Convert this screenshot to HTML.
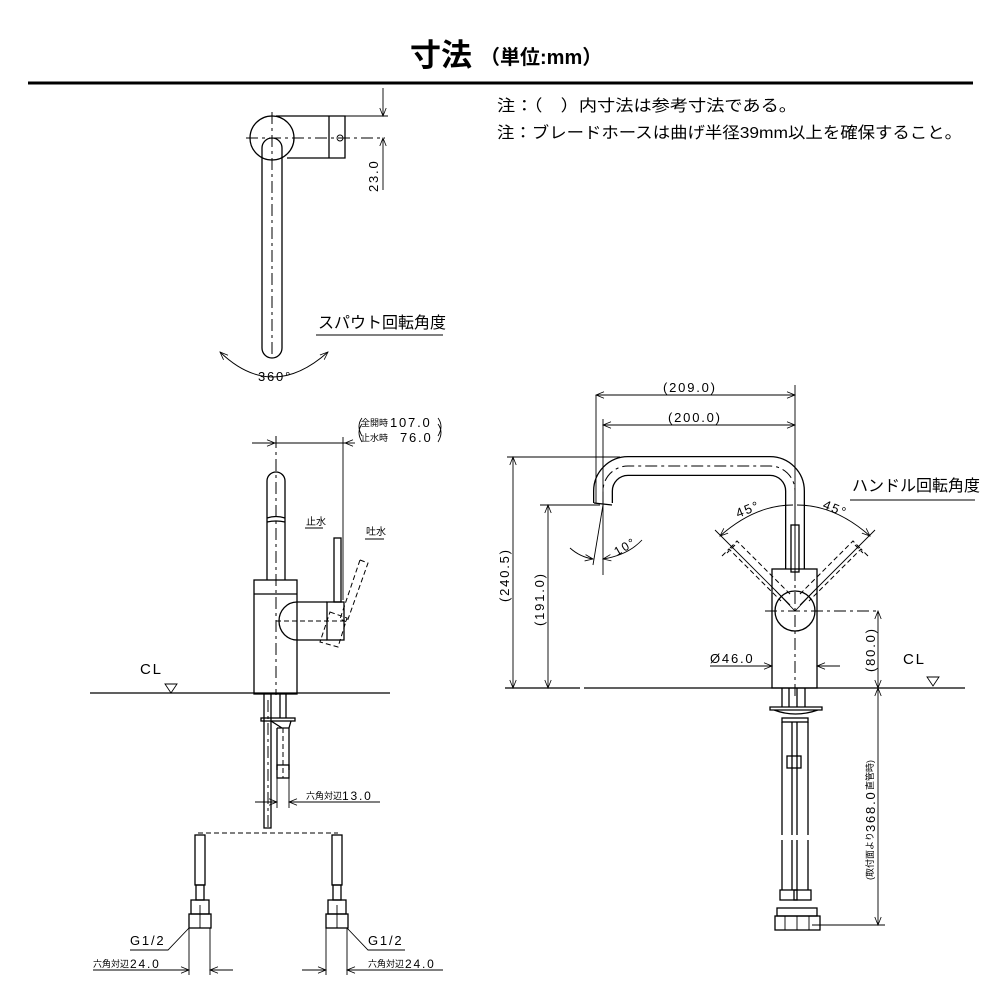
<!DOCTYPE html>
<html><head><meta charset="utf-8"><style>
html,body{margin:0;padding:0;background:#fff}
svg{display:block}
text{font-family:"Liberation Sans","Noto Sans CJK JP",sans-serif;fill:#000}
.n{letter-spacing:1.8px}
.l{stroke:#000;stroke-width:1.3;fill:none}
.t{stroke:#000;stroke-width:0.9;fill:none}
.d{stroke:#000;stroke-width:1;fill:none;stroke-dasharray:12 4 3 4}
.ds{stroke:#000;stroke-width:1;fill:none;stroke-dasharray:5 3}
</style></head><body>
<svg width="1000" height="1000" viewBox="0 0 1000 1000" xmlns="http://www.w3.org/2000/svg">
<defs>
<marker id="a" viewBox="0 0 10 10" refX="10" refY="5" markerWidth="10" markerHeight="8" orient="auto-start-reverse" markerUnits="userSpaceOnUse"><path d="M0,1 L10,5 L0,9" fill="none" stroke="#000" stroke-width="1"/></marker>
</defs>
<text x="410" y="66" font-size="31" font-weight="bold">寸法</text>
<text x="480" y="64" font-size="20" font-weight="bold">（単位:mm）</text>
<line x1="28" y1="83" x2="973" y2="83" stroke="#000" stroke-width="3"/>
<text x="497" y="111" font-size="16" textLength="300" lengthAdjust="spacingAndGlyphs">注：（　）内寸法は参考寸法である。</text>
<text x="497" y="138" font-size="16" textLength="465" lengthAdjust="spacingAndGlyphs">注：ブレードホースは曲げ半径39mm以上を確保すること。</text>

<!-- TOP VIEW -->
<path class="l" d="M276,116 L345,116 L345,158 L287,158"/>
<line class="l" x1="329" y1="116" x2="329" y2="158"/>
<circle class="t" cx="340" cy="138" r="3"/>
<circle class="l" cx="272" cy="138" r="22" fill="#fff"/>
<path class="l" d="M262,148 A10,10 0 0 1 282,148 L282,348 A10,10 0 0 1 262,348 Z" fill="#fff"/>
<line class="d" x1="272" y1="112" x2="272" y2="355"/>
<line class="d" x1="246" y1="138" x2="385" y2="138"/>
<line class="t" x1="276" y1="116" x2="388" y2="116"/>
<line class="t" x1="383" y1="88" x2="383" y2="116" marker-end="url(#a)"/>
<line class="t" x1="383" y1="190" x2="383" y2="138" marker-end="url(#a)"/>
<text class="n" transform="translate(378,192) rotate(-90)" font-size="13">23.0</text>
<text x="318" y="328" font-size="16">スパウト回転角度</text>
<line class="t" x1="316" y1="335" x2="443" y2="335"/>
<path class="t" d="M220,352 Q272,402 328,352" marker-start="url(#a)" marker-end="url(#a)"/>
<text class="n" x="258" y="381" font-size="13">360°</text>

<!-- SIDE VIEW LEFT -->
<text x="361" y="426" font-size="9">全開時</text><text class="n" x="390" y="427" font-size="13">107.0</text>
<text x="361" y="441" font-size="9">止水時</text><text class="n" x="400" y="442" font-size="13">76.0</text>
<path class="t" d="M362,418 Q356,426 362,436 M438,418 Q444,426 438,436 M362,424 Q356,432 362,442 M438,424 Q444,432 438,442"/>
<line class="t" x1="252" y1="443" x2="275" y2="443" marker-end="url(#a)"/>
<line class="t" x1="275" y1="443" x2="345" y2="443"/>
<line class="t" x1="355" y1="443" x2="345" y2="443" marker-end="url(#a)"/>
<line class="t" x1="343" y1="437" x2="343" y2="600"/>
<path class="l" d="M267,580 L267,481 A9,9 0 0 1 285,481 L285,580"/>
<path class="l" d="M267,518 Q276,515 285,518 M267,522 Q276,520 285,522"/>
<line class="d" x1="276" y1="436" x2="276" y2="695"/>
<rect class="l" x="254" y="580" width="43" height="114"/>
<line class="l" x1="254" y1="594" x2="297" y2="594"/>
<path class="l" d="M327,602 L297,602 M297,640 L327,640 M297,602 A18,19 0 0 0 297,640"/>
<line class="ds" x1="276" y1="621" x2="345" y2="621"/>
<rect class="l" x="327" y="602" width="17" height="38"/>
<rect class="l" x="334" y="538" width="7" height="64"/>
<path class="ds" d="M360,560 L368,563 L347,622 L340,619 Z"/>
<path class="ds" d="M330,612 L347,618 L338,647 L320,642 Z"/>
<text x="306" y="525" font-size="10">止水</text><line class="t" x1="305" y1="528" x2="323" y2="528"/>
<text x="366" y="535" font-size="10">吐水</text><line class="t" x1="365" y1="539" x2="384" y2="539"/>
<text class="n" x="140" y="674" font-size="15">CL</text>
<path class="t" d="M165,684 L177,684 L171,693 Z"/>
<line class="l" x1="90" y1="693" x2="390" y2="693"/>
<path class="l" d="M264,694 L264,828 L271,828 L271,694"/>
<path class="l" d="M280,694 L280,718 M286,694 L286,718"/>
<rect class="l" x="261" y="718" width="34" height="3"/>
<path class="l" d="M271,721 L282,728 M277,728 L277,770 M291,721 L289,728 L289,770 M277,728 L289,728"/>
<rect class="l" x="277" y="765" width="12" height="13"/>
<line class="d" x1="268" y1="700" x2="268" y2="828"/>
<line class="ds" x1="283" y1="728" x2="283" y2="778"/>
<line class="t" x1="277" y1="778" x2="277" y2="808"/>
<line class="t" x1="289" y1="778" x2="289" y2="808"/>
<line class="t" x1="255" y1="802" x2="277" y2="802" marker-end="url(#a)"/>
<line class="t" x1="380" y1="802" x2="289" y2="802" marker-end="url(#a)"/>
<text x="306" y="799" font-size="9">六角対辺</text><text class="n" x="342" y="800" font-size="12">13.0</text>
<line class="ds" x1="198" y1="833" x2="338" y2="833" stroke-dasharray="14 6"/>
<g>
<rect class="l" x="195" y="835" width="10" height="50"/>
<rect class="l" x="196" y="885" width="8" height="15"/>
<rect class="l" x="191" y="900" width="18" height="14"/>
<rect class="l" x="189" y="914" width="22" height="14"/>
<line class="t" x1="200" y1="905" x2="200" y2="928"/>
<line class="t" x1="210" y1="928" x2="210" y2="975"/>
<line class="t" x1="189" y1="928" x2="189" y2="975"/>
</g>
<g transform="translate(137,0)">
<rect class="l" x="195" y="835" width="10" height="50"/>
<rect class="l" x="196" y="885" width="8" height="15"/>
<rect class="l" x="191" y="900" width="18" height="14"/>
<rect class="l" x="189" y="914" width="22" height="14"/>
<line class="t" x1="200" y1="905" x2="200" y2="928"/>
<line class="t" x1="210" y1="928" x2="210" y2="975"/>
<line class="t" x1="189" y1="928" x2="189" y2="975"/>
</g>
<text class="n" x="130" y="945" font-size="13">G1/2</text>
<path class="t" d="M130,950 L168,950 L189,928"/>
<text class="n" x="368" y="945" font-size="13">G1/2</text>
<path class="t" d="M405,950 L368,950 L347,928"/>
<text x="93" y="967" font-size="9">六角対辺</text><text class="n" x="130" y="968" font-size="12">24.0</text>
<line class="t" x1="93" y1="970" x2="189" y2="970" marker-end="url(#a)"/>
<line class="t" x1="233" y1="970" x2="210" y2="970" marker-end="url(#a)"/>
<line class="t" x1="302" y1="970" x2="326" y2="970" marker-end="url(#a)"/>
<line class="t" x1="443" y1="970" x2="347" y2="970" marker-end="url(#a)"/>
<text x="368" y="967" font-size="9">六角対辺</text><text class="n" x="405" y="968" font-size="12">24.0</text>

<!-- RIGHT VIEW -->
<path d="M795,569 L795,491 A25,25 0 0 0 770,466 L628,466 A25,25 0 0 0 603,491 L603,503" stroke="#000" stroke-width="20" fill="none"/>
<path d="M795,570 L795,491 A25,25 0 0 0 770,466 L628,466 A25,25 0 0 0 603,491 L603,504" stroke="#fff" stroke-width="17.4" fill="none"/>
<path class="d" d="M795,569 L795,491 A25,25 0 0 0 770,466 L628,466 A25,25 0 0 0 603,491 L603,503"/>
<line class="l" x1="594" y1="503" x2="612" y2="505"/>
<line class="t" x1="596" y1="395" x2="596" y2="503"/>
<line class="t" x1="603" y1="419" x2="603" y2="575"/>
<line class="t" x1="795" y1="385" x2="795" y2="500"/>
<line class="t" x1="596" y1="395" x2="795" y2="395" marker-start="url(#a)" marker-end="url(#a)"/>
<text class="n" x="663" y="392" font-size="13">(209.0)</text>
<line class="t" x1="603" y1="425" x2="795" y2="425" marker-start="url(#a)" marker-end="url(#a)"/>
<text class="n" x="668" y="422" font-size="13">(200.0)</text>
<line class="t" x1="507" y1="457" x2="620" y2="457"/>
<line class="t" x1="540" y1="505" x2="600" y2="505"/>
<line class="t" x1="513" y1="457" x2="513" y2="688" marker-start="url(#a)" marker-end="url(#a)"/>
<text class="n" transform="translate(509,602) rotate(-90)" font-size="13">(240.5)</text>
<line class="t" x1="548" y1="505" x2="548" y2="688" marker-start="url(#a)" marker-end="url(#a)"/>
<text class="n" transform="translate(544,626) rotate(-90)" font-size="13">(191.0)</text>
<line class="t" x1="603" y1="505" x2="593" y2="565"/>
<path class="t" d="M570,548 Q580,557 593,559" marker-end="url(#a)"/>
<path class="t" d="M642,540 Q628,555 603,559" marker-end="url(#a)"/>
<text class="n" transform="translate(617,556) rotate(-30)" font-size="12">10°</text>
<rect class="l" x="772" y="569" width="45" height="119"/>
<rect class="l" x="791" y="525" width="8" height="47"/>
<circle class="l" cx="795" cy="611" r="20"/>
<line class="d" x1="765" y1="611" x2="880" y2="611"/>
<line class="d" x1="795" y1="500" x2="795" y2="700"/>
<path class="t" d="M775,590 L795,611 L815,590"/>
<path class="ds" d="M730,548 L737,541 L790,594 M722,556 L729,549 L781,601 M735,545 L727,553"/>
<path class="ds" d="M860,548 L853,541 L800,594 M868,556 L861,549 L809,601 M855,545 L863,553"/>
<path class="t" d="M793,505 Q755,505 720,536" marker-end="url(#a)"/>
<path class="t" d="M797,505 Q835,505 870,536" marker-end="url(#a)"/>
<line class="t" x1="715" y1="530" x2="790" y2="605"/>
<line class="t" x1="875" y1="530" x2="800" y2="605"/>
<text class="n" transform="translate(738,518) rotate(-22)" font-size="13">45°</text>
<text class="n" transform="translate(822,508) rotate(22)" font-size="13">45°</text>
<text x="852" y="491" font-size="16">ハンドル回転角度</text>
<line class="t" x1="850" y1="500" x2="975" y2="500"/>
<line class="t" x1="710" y1="666" x2="772" y2="666" marker-end="url(#a)"/>
<line class="t" x1="840" y1="666" x2="817" y2="666" marker-end="url(#a)"/>
<text class="n" x="710" y="663" font-size="13">Ø46.0</text>
<line class="t" x1="878" y1="611" x2="878" y2="688" marker-start="url(#a)" marker-end="url(#a)"/>
<text class="n" transform="translate(875,672) rotate(-90)" font-size="13">(80.0)</text>
<text class="n" x="903" y="664" font-size="15">CL</text>
<path class="t" d="M927,677 L939,677 L933,686 Z"/>
<line class="l" x1="505" y1="688" x2="580" y2="688"/>
<line class="l" x1="584" y1="688" x2="965" y2="688"/>
<path class="l" d="M782,688 L782,707 M789,688 L789,707 M797,688 L797,707 M805,688 L805,707"/>
<path class="l" d="M770,707 L822,707 L822,710 L770,710 Z M774,710 Q795,718 818,710"/>
<rect class="l" x="782" y="718" width="26" height="4"/>
<path class="l" d="M782,722 L782,835 M797,722 L797,835 M792,722 L792,835 M808,722 L808,835"/>
<rect class="l" x="787" y="756" width="14" height="12" fill="#fff"/>
<path class="l" d="M782,840 L782,890 M797,840 L797,890 M792,840 L792,890 M808,840 L808,890"/>
<rect class="l" x="780" y="890" width="17" height="10"/><rect class="l" x="794" y="890" width="17" height="10"/>
<rect class="l" x="777" y="908" width="40" height="8"/>
<rect class="l" x="775" y="916" width="45" height="14"/>
<line class="t" x1="785" y1="916" x2="785" y2="930"/><line class="t" x1="797" y1="916" x2="797" y2="930"/><line class="t" x1="809" y1="916" x2="809" y2="930"/>
<line class="t" x1="812" y1="925" x2="885" y2="925"/>
<line class="t" x1="878" y1="688" x2="878" y2="925" marker-start="url(#a)" marker-end="url(#a)"/>
<text transform="translate(873,880) rotate(-90)" font-size="9">(取付面より</text>
<text class="n" transform="translate(875,832) rotate(-90)" font-size="13">368.0</text>
<text transform="translate(873,790) rotate(-90)" font-size="9">直管時)</text>
</svg>
</body></html>
